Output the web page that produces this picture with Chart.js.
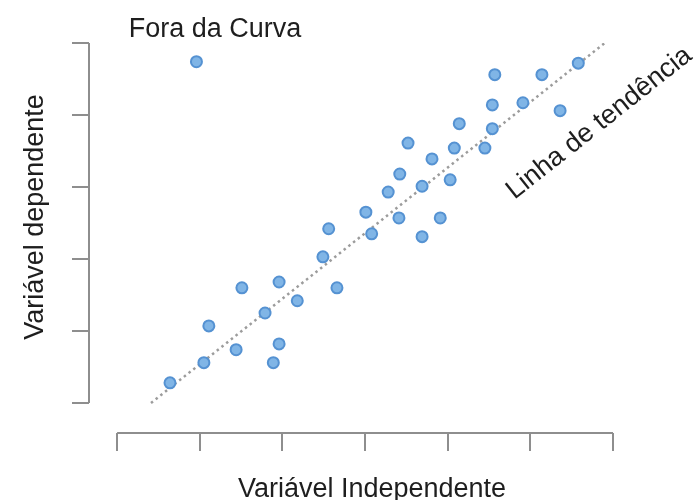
<!DOCTYPE html>
<html lang="pt">
<head>
<meta charset="utf-8">
<title>Linha de tendência</title>
<script src="https://cdn.jsdelivr.net/npm/chart.js@4.4.0/dist/chart.umd.min.js"></script>
<style>
  html, body { margin: 0; padding: 0; background: #fff; }
</style>
</head>
<body>
<canvas id="scatter-chart" width="695" height="500"></canvas>
<script>
'use strict';

// Observations (independent, dependent)
const xValues = [0.96, 0.64, 1.05, 1.11, 1.44, 1.51, 1.79, 1.89, 1.96, 1.96,
                 2.18, 2.49, 2.56, 2.66, 3.01, 3.08, 3.28, 3.42, 3.41, 3.52,
                 3.69, 3.69, 3.81, 3.91, 4.03, 4.08, 4.14, 4.45, 4.54, 4.54,
                 4.57, 4.91, 5.14, 5.36, 5.58];
const yValues = [4.74, 0.28, 0.56, 1.07, 0.74, 1.60, 1.25, 0.56, 1.68, 0.82,
                 1.42, 2.03, 2.42, 1.60, 2.65, 2.35, 2.93, 3.18, 2.57, 3.61,
                 2.31, 3.01, 3.39, 2.57, 3.10, 3.54, 3.88, 3.54, 3.81, 4.14,
                 4.56, 4.17, 4.56, 4.06, 4.72];

// Trend line end points
const trendX = [0.41, 5.9];
const trendY = [0, 5];

// Unlabelled tick marks on both axes
const xTicks = [0, 1, 2, 3, 4, 5, 6];
const yTicks = [0, 1, 2, 3, 4, 5];

const outlierLabel = 'Fora da Curva';
const trendLabel = 'Linha de tendência';
const xTitle = 'Variável Independente';
const yTitle = 'Variável dependente';

const axisGray = '#8e8e8e';
const textFont = '27px "Liberation Sans", Arial, sans-serif';

/**
 * Axis lines (only between first and last tick) and the free text
 */
const annotationPlugin = {
    id: 'annotations',
    afterDraw(chart) {
        const { ctx, chartArea, scales: { x, y } } = chart;
        ctx.save();

        // axis lines
        ctx.strokeStyle = axisGray;
        ctx.lineWidth = 2;
        ctx.beginPath();
        ctx.moveTo(chartArea.left, y.getPixelForValue(yTicks[0]));
        ctx.lineTo(chartArea.left, y.getPixelForValue(yTicks[yTicks.length - 1]));
        ctx.moveTo(x.getPixelForValue(xTicks[0]), chartArea.bottom);
        ctx.lineTo(x.getPixelForValue(xTicks[xTicks.length - 1]), chartArea.bottom);
        ctx.stroke();

        ctx.font = textFont;
        ctx.fillStyle = '#1e1e1e';
        ctx.textAlign = 'center';
        ctx.textBaseline = 'alphabetic';

        // label above the outlier
        ctx.fillText(outlierLabel, 215, 37);

        // axis titles
        ctx.fillText(xTitle, 372, 497);
        ctx.save();
        ctx.translate(43, 217);
        ctx.rotate(-Math.PI / 2);
        ctx.fillText(yTitle, 0, 0);
        ctx.restore();

        // label along the trend line
        const x0 = x.getPixelForValue(trendX[0]);
        const y0 = y.getPixelForValue(trendY[0]);
        const x1 = x.getPixelForValue(trendX[1]);
        const y1 = y.getPixelForValue(trendY[1]);
        const angle = Math.atan2(y1 - y0, x1 - x0);
        ctx.translate(604, 129);
        ctx.rotate(angle);
        ctx.fillText(trendLabel, 0, 0);

        ctx.restore();
    }
};

const points = xValues.map((v, i) => ({ x: v, y: yValues[i] }));
const trend = trendX.map((v, i) => ({ x: v, y: trendY[i] }));

new Chart(document.getElementById('scatter-chart').getContext('2d'), {
    type: 'scatter',
    data: {
        datasets: [{
            label: 'Observações',
            data: points,
            backgroundColor: '#80b5e6',
            borderColor: '#5592d2',
            borderWidth: 2,
            pointRadius: 5.5
        }, {
            type: 'line',
            label: trendLabel,
            data: trend,
            borderColor: '#9c9c9c',
            borderWidth: 2.5,
            borderDash: [2.5, 3.5],
            pointRadius: 0,
            fill: false
        }]
    },
    options: {
        responsive: false,
        animation: false,
        layout: {
            padding: { left: 72, right: 82, top: 43, bottom: 49 }
        },
        plugins: {
            legend: { display: false },
            tooltip: { enabled: false },
            title: { display: false }
        },
        events: [],
        scales: {
            x: {
                type: 'linear',
                min: -0.34,
                max: 6,
                afterBuildTicks: scale => {
                    scale.ticks = xTicks.map(v => ({ value: v }));
                },
                grid: {
                    drawOnChartArea: false,
                    drawTicks: true,
                    tickLength: 18,
                    color: axisGray,
                    lineWidth: 2
                },
                border: { display: false },
                ticks: { display: false }
            },
            y: {
                type: 'linear',
                min: -0.417,
                max: 5,
                afterBuildTicks: scale => {
                    scale.ticks = yTicks.map(v => ({ value: v }));
                },
                grid: {
                    drawOnChartArea: false,
                    drawTicks: true,
                    tickLength: 17,
                    color: axisGray,
                    lineWidth: 2
                },
                border: { display: false },
                ticks: { display: false }
            }
        }
    },
    plugins: [annotationPlugin]
});
</script>
</body>
</html>
